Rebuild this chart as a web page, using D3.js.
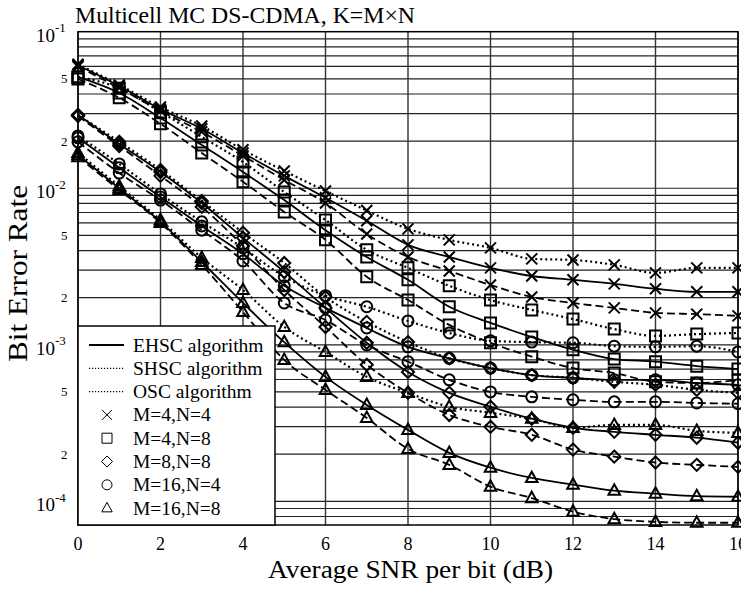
<!DOCTYPE html>
<html>
<head>
<meta charset="utf-8">
<script src="https://cdn.jsdelivr.net/npm/d3@7"></script>
<style>
  body { margin: 0; background: #fff; }
  svg { display: block; font-family: "Liberation Serif", "Times New Roman", serif; }
</style>
</head>
<body>
<svg id="chart" width="741" height="589"></svg>
<script>
// Multicell MC DS-CDMA BER curves

// x values (average SNR per bit, dB)
const snr = [0, 1, 2, 3, 4, 5, 6, 7, 8, 9, 10, 11, 12, 13, 14, 15, 16];
const xTicks = [0, 2, 4, 6, 8, 10, 12, 14, 16];

// y tick labels
const decadeTicks = [1e-1, 1e-2, 1e-3, 1e-4];
const decadeExp = ['-1', '-2', '-3', '-4'];
const minorTicks = [5e-2, 2e-2, 5e-3, 2e-3, 5e-4, 2e-4];
const minorText = ['5', '2', '5', '2', '5', '2'];

// M=4,N=4
const m4n4_ehsc = [6.1e-2, 4.5e-2, 3.2e-2, 2.4e-2, 1.68e-2, 1.2e-2, 8.7e-3, 6.2e-3, 4.35e-3, 3.64e-3, 3.1e-3, 2.75e-3, 2.6e-3, 2.45e-3, 2.28e-3, 2.18e-3, 2.18e-3];
const m4n4_shsc = [6.2e-2, 4.57e-2, 3.3e-2, 2.5e-2, 1.76e-2, 1.29e-2, 9.6e-3, 7.2e-3, 5.5e-3, 4.68e-3, 4.16e-3, 3.54e-3, 3.48e-3, 3.24e-3, 2.88e-3, 3.1e-3, 3.1e-3];
const m4n4_osc = [6.0e-2, 4.36e-2, 3.12e-2, 2.29e-2, 1.61e-2, 1.13e-2, 8.05e-3, 5.1e-3, 3.64e-3, 2.96e-3, 2.41e-3, 2.02e-3, 1.85e-3, 1.72e-3, 1.6e-3, 1.57e-3, 1.53e-3];

// M=4,N=8
const m4n8_ehsc = [5.14e-2, 4.06e-2, 2.81e-2, 1.89e-2, 1.27e-2, 8.4e-3, 5.4e-3, 3.64e-3, 2.6e-3, 1.75e-3, 1.38e-3, 1.12e-3, 9.3e-4, 8.1e-4, 7.8e-4, 7.3e-4, 7.0e-4];
const m4n8_shsc = [5.14e-2, 4.36e-2, 3.07e-2, 2.13e-2, 1.47e-2, 9.46e-3, 6.27e-3, 4.04e-3, 3.1e-3, 2.38e-3, 1.93e-3, 1.67e-3, 1.46e-3, 1.26e-3, 1.14e-3, 1.17e-3, 1.19e-3];
const m4n8_osc = [4.99e-2, 3.78e-2, 2.58e-2, 1.68e-2, 1.1e-2, 7.06e-3, 4.68e-3, 2.72e-3, 1.93e-3, 1.34e-3, 1.03e-3, 8.4e-4, 7.1e-4, 6.6e-4, 5.8e-4, 5.7e-4, 5.96e-4];

// M=8,N=8
const m8n8_ehsc = [2.94e-2, 1.92e-2, 1.27e-2, 8.05e-3, 4.82e-3, 2.92e-3, 1.72e-3, 1.03e-3, 6.7e-4, 4.93e-4, 4.02e-4, 3.37e-4, 2.95e-4, 2.78e-4, 2.66e-4, 2.55e-4, 2.37e-4];
const m8n8_shsc = [2.94e-2, 1.98e-2, 1.31e-2, 8.3e-3, 5.2e-3, 3.33e-3, 2.02e-3, 1.4e-3, 1.04e-3, 8.2e-4, 7.1e-4, 6.4e-4, 6.15e-4, 5.8e-4, 5.55e-4, 5.15e-4, 4.93e-4];
const m8n8_osc = [2.89e-2, 1.86e-2, 1.2e-2, 7.6e-3, 4.29e-3, 2.24e-3, 1.3e-3, 7.45e-4, 4.93e-4, 3.56e-4, 2.99e-4, 2.66e-4, 2.14e-4, 1.93e-4, 1.77e-4, 1.71e-4, 1.66e-4];

// M=16,N=4
const m16n4_ehsc = [2.1e-2, 1.35e-2, 8.8e-3, 5.74e-3, 3.81e-3, 2.38e-3, 1.72e-3, 1.28e-3, 9.7e-4, 8.2e-4, 7.1e-4, 6.4e-4, 6.15e-4, 5.97e-4, 5.97e-4, 5.7e-4, 5.55e-4];
const m16n4_shsc = [2.16e-2, 1.43e-2, 9.2e-3, 6.1e-3, 4.16e-3, 2.72e-3, 2.06e-3, 1.75e-3, 1.42e-3, 1.19e-3, 1.06e-3, 1.04e-3, 1.03e-3, 9.8e-4, 9.7e-4, 9.8e-4, 9.0e-4];
const m16n4_osc = [1.98e-2, 1.25e-2, 8.4e-3, 5.4e-3, 3.43e-3, 1.85e-3, 1.44e-3, 9.97e-4, 7.8e-4, 5.97e-4, 5.0e-4, 4.65e-4, 4.45e-4, 4.32e-4, 4.32e-4, 4.25e-4, 4.2e-4];

// M=16,N=8
const m16n8_ehsc = [1.63e-2, 1.0e-2, 6.1e-3, 3.38e-3, 1.85e-3, 1.04e-3, 6.24e-4, 4.13e-4, 2.86e-4, 2.04e-4, 1.64e-4, 1.41e-4, 1.28e-4, 1.17e-4, 1.12e-4, 1.08e-4, 1.07e-4];
const m16n8_shsc = [1.68e-2, 1.03e-2, 6.27e-3, 3.59e-3, 2.24e-3, 1.3e-3, 9.0e-4, 6.24e-4, 4.93e-4, 4.02e-4, 3.68e-4, 3.37e-4, 2.95e-4, 3.08e-4, 3.08e-4, 2.82e-4, 2.74e-4];
const m16n8_osc = [1.58e-2, 9.75e-3, 6.0e-3, 3.24e-3, 1.62e-3, 8.0e-4, 5.15e-4, 3.41e-4, 2.16e-4, 1.71e-4, 1.24e-4, 1.05e-4, 8.6e-5, 7.7e-5, 7.4e-5, 7.3e-5, 7.3e-5];

const series = [
    {marker: 'x', style: 'dotted', values: m4n4_shsc},
    {marker: 'x', style: 'solid', values: m4n4_ehsc},
    {marker: 'x', style: 'dashed', values: m4n4_osc},
    {marker: 'square', style: 'dotted', values: m4n8_shsc},
    {marker: 'square', style: 'solid', values: m4n8_ehsc},
    {marker: 'square', style: 'dashed', values: m4n8_osc},
    {marker: 'diamond', style: 'dotted', values: m8n8_shsc},
    {marker: 'diamond', style: 'solid', values: m8n8_ehsc},
    {marker: 'diamond', style: 'dashed', values: m8n8_osc},
    {marker: 'circle', style: 'dotted', values: m16n4_shsc},
    {marker: 'circle', style: 'solid', values: m16n4_ehsc},
    {marker: 'circle', style: 'dashed', values: m16n4_osc},
    {marker: 'triangle', style: 'dotted', values: m16n8_shsc},
    {marker: 'triangle', style: 'solid', values: m16n8_ehsc},
    {marker: 'triangle', style: 'dashed', values: m16n8_osc},
];

const legendLines = [
    {label: 'EHSC algorithm', style: 'solid'},
    {label: 'SHSC algorithm', style: 'dotted'},
    {label: 'OSC algorithm', style: 'dotted'},
];
const legendMarkers = [
    {label: 'M=4,N=4', marker: 'x'},
    {label: 'M=4,N=8', marker: 'square'},
    {label: 'M=8,N=8', marker: 'diamond'},
    {label: 'M=16,N=4', marker: 'circle'},
    {label: 'M=16,N=8', marker: 'triangle'},
];

const dashes = {solid: null, dotted: '2,3', dashed: '8,4'};

// marker path for a given half size
function markerPath(type, s) {
    switch (type) {
        case 'x':
            return `M${-s},${-s}L${s},${s}M${-s},${s}L${s},${-s}`;
        case 'square':
            return `M${-s},${-s}H${s}V${s}H${-s}Z`;
        case 'diamond':
            return `M0,${-s * 1.1}L${s * 1.1},0L0,${s * 1.1}L${-s * 1.1},0Z`;
        case 'circle':
            return `M${s},0A${s},${s} 0 1,1 ${-s},0A${s},${s} 0 1,1 ${s},0Z`;
        case 'triangle':
            return `M0,${-s * 1.15}L${s * 1.05},${s * 0.75}L${-s * 1.05},${s * 0.75}Z`;
    }
}

const svg = d3.select('#chart');
const pLeft = 78, pRight = 738, pTop = 31.7, pBottom = 525;

const x = d3.scaleLinear().domain([0, 16]).range([pLeft, pRight]);
const y = d3.scaleLog().domain([7.06e-5, 0.1]).range([pBottom, pTop]);

// horizontal grid lines (1..9 per decade)
const gridVals = [];
for (let e = -5; e <= -2; e++) {
    for (let k = 1; k <= 9; k++) {
        const v = k * Math.pow(10, e);
        if (v >= y.domain()[0] && v <= y.domain()[1]) gridVals.push(v);
    }
}
svg.append('g')
    .selectAll('line')
    .data(gridVals)
    .enter()
    .append('line')
    .attr('x1', pLeft).attr('x2', pRight)
    .attr('y1', (d) => y(d)).attr('y2', (d) => y(d))
    .attr('stroke', '#222')
    .attr('stroke-width', 1.2);

// vertical grid lines
svg.append('g')
    .selectAll('line')
    .data(xTicks)
    .enter()
    .append('line')
    .attr('x1', (d) => x(d)).attr('x2', (d) => x(d))
    .attr('y1', pTop).attr('y2', pBottom)
    .attr('stroke', '#333')
    .attr('stroke-width', 1.4);

// frame
svg.append('rect')
    .attr('x', pLeft).attr('y', pTop)
    .attr('width', pRight - pLeft).attr('height', pBottom - pTop)
    .attr('fill', 'none')
    .attr('stroke', '#000')
    .attr('stroke-width', 1.5);

// curves
const line = d3.line()
    .x((d, i) => x(snr[i]))
    .y((d) => y(d))
    .curve(d3.curveMonotoneX);

const plot = svg.append('g');
for (const s of series) {
    plot.append('path')
        .attr('d', line(s.values))
        .attr('fill', 'none')
        .attr('stroke', '#000')
        .attr('stroke-width', s.style === 'dotted' ? 2.2 : 1.8)
        .attr('stroke-dasharray', dashes[s.style]);
    plot.append('g')
        .selectAll('path')
        .data(s.values)
        .enter()
        .append('path')
        .attr('transform', (d, i) => `translate(${x(snr[i])},${y(d)})`)
        .attr('d', markerPath(s.marker, 5.5))
        .attr('fill', 'none')
        .attr('stroke', '#000')
        .attr('stroke-width', 2);
}

// x tick labels
svg.append('g')
    .selectAll('text')
    .data(xTicks)
    .enter()
    .append('text')
    .attr('x', (d) => x(d))
    .attr('y', 550)
    .attr('text-anchor', 'middle')
    .attr('font-size', 18)
    .text((d) => d);

// y tick labels: decades with superscript, 5 and 2 in between
const yt = svg.append('g');
decadeTicks.forEach((v, i) => {
    yt.append('text')
        .attr('x', 55)
        .attr('y', y(v) + 10)
        .attr('text-anchor', 'end')
        .attr('font-size', 19)
        .text('10');
    yt.append('text')
        .attr('x', 55)
        .attr('y', y(v) + 0.5)
        .attr('font-size', 13)
        .text(decadeExp[i]);
});
yt.selectAll('.minor')
    .data(minorTicks)
    .enter()
    .append('text')
    .attr('class', 'minor')
    .attr('x', 67.5)
    .attr('y', (d) => y(d) + 4.5)
    .attr('text-anchor', 'end')
    .attr('font-size', 13)
    .text((d, i) => minorText[i]);

// titles
svg.append('text')
    .attr('x', 75)
    .attr('y', 22.5)
    .attr('font-size', 22.5)
    .attr('textLength', 340)
    .attr('lengthAdjust', 'spacingAndGlyphs')
    .text('Multicell MC DS-CDMA, K=M\u00d7N');

svg.append('text')
    .attr('x', 268)
    .attr('y', 578)
    .attr('font-size', 25)
    .attr('textLength', 285)
    .attr('lengthAdjust', 'spacingAndGlyphs')
    .text('Average SNR per bit (dB)');

svg.append('text')
    .attr('transform', 'translate(27,362) rotate(-90)')
    .attr('font-size', 28)
    .attr('textLength', 177)
    .attr('lengthAdjust', 'spacingAndGlyphs')
    .text('Bit Error Rate');

// legend
const lg = svg.append('g');
lg.append('rect')
    .attr('x', pLeft).attr('y', 326)
    .attr('width', 197).attr('height', pBottom - 326)
    .attr('fill', '#fff')
    .attr('stroke', '#000')
    .attr('stroke-width', 1.5);

const rowH = 23.3, row0 = 345;
legendLines.forEach((d, i) => {
    const cy = row0 + i * rowH;
    lg.append('line')
        .attr('x1', 89).attr('x2', 124)
        .attr('y1', cy).attr('y2', cy)
        .attr('stroke', '#000')
        .attr('stroke-width', d.style === 'dotted' ? 1.2 : 2)
        .attr('stroke-dasharray', d.style === 'dotted' ? '1.2,1.8' : null);
    lg.append('text')
        .attr('x', 133).attr('y', cy + 6.5)
        .attr('font-size', 19.5)
        .text(d.label);
});
legendMarkers.forEach((d, i) => {
    const cy = row0 + (i + 3) * rowH;
    lg.append('path')
        .attr('transform', `translate(107,${cy})`)
        .attr('d', markerPath(d.marker, 5))
        .attr('fill', 'none')
        .attr('stroke', '#000')
        .attr('stroke-width', 1);
    lg.append('text')
        .attr('x', 133).attr('y', cy + 6.5)
        .attr('font-size', 19.5)
        .text(d.label);
});
</script>
</body>
</html>
